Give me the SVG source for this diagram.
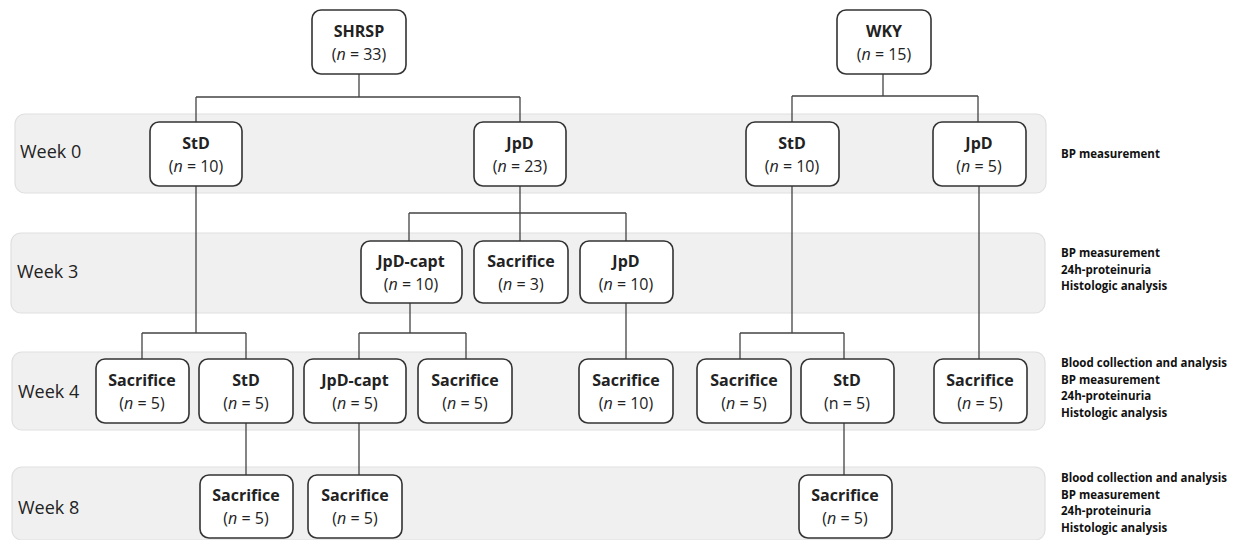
<svg xmlns="http://www.w3.org/2000/svg" width="1236" height="540" viewBox="0 0 1236 540">
<style>
.band{fill:#f0f0f0;stroke:#e0e0e0;stroke-width:1.2}
.box{fill:#fff;stroke:#333;stroke-width:1.6}
.t1{font-family:"Open Sans","Liberation Sans",sans-serif;font-size:16px;font-weight:bold;fill:#222;text-anchor:middle}
.t2{font-family:"Open Sans","Liberation Sans",sans-serif;font-size:16px;fill:#222;text-anchor:middle}
.wk{font-family:"Open Sans","Liberation Sans",sans-serif;font-size:18px;fill:#222}
.side{font-family:"Open Sans","Liberation Sans",sans-serif;font-size:11.5px;font-weight:bold;fill:#111}
.i{font-style:italic}
.con{fill:none;stroke:#444;stroke-width:1.3}
</style>
<g id="bands">
<rect class="band" x="15" y="114" width="1031" height="79" rx="10"/>
<rect class="band" x="11" y="233" width="1034" height="80" rx="10"/>
<rect class="band" x="12" y="352" width="1033" height="78" rx="10"/>
<rect class="band" x="12" y="467" width="1033" height="73" rx="10"/>
<text class="wk" x="20" y="158">Week 0</text>
<text class="wk" x="17" y="278">Week 3</text>
<text class="wk" x="18" y="398">Week 4</text>
<text class="wk" x="18" y="514">Week 8</text>
</g>
<g id="side-labels">
<text class="side" x="1061" y="158">BP measurement</text>
<text class="side" x="1061" y="257">BP measurement</text>
<text class="side" x="1061" y="274">24h-proteinuria</text>
<text class="side" x="1061" y="290">Histologic analysis</text>
<text class="side" x="1061" y="367">Blood collection and analysis</text>
<text class="side" x="1061" y="384">BP measurement</text>
<text class="side" x="1061" y="400">24h-proteinuria</text>
<text class="side" x="1061" y="417">Histologic analysis</text>
<text class="side" x="1061" y="482">Blood collection and analysis</text>
<text class="side" x="1061" y="499">BP measurement</text>
<text class="side" x="1061" y="515">24h-proteinuria</text>
<text class="side" x="1061" y="532">Histologic analysis</text>
</g>
<g id="connectors">
<path class="con" d="M359,74V97M196,97H520M196,97V122M520,97V122"/>
<path class="con" d="M883,74V96M792,96H978M792,96V122M978,96V122"/>
<path class="con" d="M520,186V241M409,213H626M409,213V241M626,213V241"/>
<path class="con" d="M196,186V333M142,333H246M142,333V359M246,333V359"/>
<path class="con" d="M410,303V333M359,333H466M359,333V359M466,333V359"/>
<path class="con" d="M626,303V359"/>
<path class="con" d="M792,186V333M740,333H844M740,333V359M844,333V359"/>
<path class="con" d="M979,186V359"/>
<path class="con" d="M246,423V475M359,423V475M844,423V475"/>
</g>
<g id="shrsp"><rect class="box" x="312" y="10" width="94" height="64" rx="9"/><text class="t1" x="359" y="37">SHRSP</text><text class="t2" x="359" y="60">(<tspan class="i">n</tspan> = 33)</text></g>
<g id="wky"><rect class="box" x="837" y="10" width="94" height="64" rx="9"/><text class="t1" x="884" y="37">WKY</text><text class="t2" x="884" y="60">(<tspan class="i">n</tspan> = 15)</text></g>
<g id="w0-shrsp-std"><rect class="box" x="150" y="122" width="92" height="64" rx="9"/><text class="t1" x="196" y="149">StD</text><text class="t2" x="196" y="172">(<tspan class="i">n</tspan> = 10)</text></g>
<g id="w0-shrsp-jpd"><rect class="box" x="474" y="122" width="92" height="64" rx="9"/><text class="t1" x="520" y="149">JpD</text><text class="t2" x="520" y="172">(<tspan class="i">n</tspan> = 23)</text></g>
<g id="w0-wky-std"><rect class="box" x="746" y="122" width="93" height="64" rx="9"/><text class="t1" x="792" y="149">StD</text><text class="t2" x="792" y="172">(<tspan class="i">n</tspan> = 10)</text></g>
<g id="w0-wky-jpd"><rect class="box" x="933" y="122" width="93" height="64" rx="9"/><text class="t1" x="979" y="149">JpD</text><text class="t2" x="979" y="172">(<tspan class="i">n</tspan> = 5)</text></g>
<g id="w3-jpdcapt"><rect class="box" x="361" y="241" width="101" height="62" rx="9"/><text class="t1" x="411" y="267">JpD-capt</text><text class="t2" x="411" y="290">(<tspan class="i">n</tspan> = 10)</text></g>
<g id="w3-sacrifice"><rect class="box" x="474" y="241" width="94" height="62" rx="9"/><text class="t1" x="521" y="267">Sacrifice</text><text class="t2" x="521" y="290">(<tspan class="i">n</tspan> = 3)</text></g>
<g id="w3-jpd"><rect class="box" x="580" y="241" width="93" height="62" rx="9"/><text class="t1" x="626" y="267">JpD</text><text class="t2" x="626" y="290">(<tspan class="i">n</tspan> = 10)</text></g>
<g id="w4-sac-a"><rect class="box" x="96" y="359" width="93" height="64" rx="9"/><text class="t1" x="142" y="386">Sacrifice</text><text class="t2" x="142" y="409">(<tspan class="i">n</tspan> = 5)</text></g>
<g id="w4-std-a"><rect class="box" x="199" y="359" width="94" height="64" rx="9"/><text class="t1" x="246" y="386">StD</text><text class="t2" x="246" y="409">(<tspan class="i">n</tspan> = 5)</text></g>
<g id="w4-jpdcapt"><rect class="box" x="304" y="359" width="102" height="64" rx="9"/><text class="t1" x="355" y="386">JpD-capt</text><text class="t2" x="355" y="409">(<tspan class="i">n</tspan> = 5)</text></g>
<g id="w4-sac-b"><rect class="box" x="418" y="359" width="94" height="64" rx="9"/><text class="t1" x="465" y="386">Sacrifice</text><text class="t2" x="465" y="409">(<tspan class="i">n</tspan> = 5)</text></g>
<g id="w4-sac-c"><rect class="box" x="579" y="359" width="94" height="64" rx="9"/><text class="t1" x="626" y="386">Sacrifice</text><text class="t2" x="626" y="409">(<tspan class="i">n</tspan> = 10)</text></g>
<g id="w4-sac-d"><rect class="box" x="697" y="359" width="94" height="64" rx="9"/><text class="t1" x="744" y="386">Sacrifice</text><text class="t2" x="744" y="409">(<tspan class="i">n</tspan> = 5)</text></g>
<g id="w4-std-b"><rect class="box" x="801" y="359" width="93" height="64" rx="9"/><text class="t1" x="847" y="386">StD</text><text class="t2" x="847" y="409">(n = 5)</text></g>
<g id="w4-sac-e"><rect class="box" x="934" y="359" width="93" height="64" rx="9"/><text class="t1" x="980" y="386">Sacrifice</text><text class="t2" x="980" y="409">(<tspan class="i">n</tspan> = 5)</text></g>
<g id="w8-sac-a"><rect class="box" x="200" y="475" width="93" height="63" rx="9"/><text class="t1" x="246" y="501">Sacrifice</text><text class="t2" x="246" y="524">(<tspan class="i">n</tspan> = 5)</text></g>
<g id="w8-sac-b"><rect class="box" x="308" y="475" width="94" height="63" rx="9"/><text class="t1" x="355" y="501">Sacrifice</text><text class="t2" x="355" y="524">(<tspan class="i">n</tspan> = 5)</text></g>
<g id="w8-sac-c"><rect class="box" x="799" y="475" width="93" height="63" rx="9"/><text class="t1" x="845" y="501">Sacrifice</text><text class="t2" x="845" y="524">(<tspan class="i">n</tspan> = 5)</text></g>
</svg>
